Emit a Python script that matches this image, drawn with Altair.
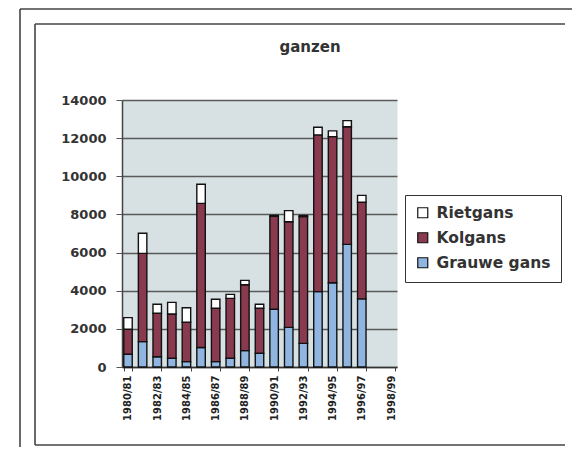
import altair as alt
import pandas as pd

seasons = ["1980/81", "1981/82", "1982/83", "1983/84", "1984/85", "1985/86",
           "1986/87", "1987/88", "1988/89", "1989/90", "1990/91", "1991/92",
           "1992/93", "1993/94", "1994/95", "1995/96", "1996/97", "1997/98",
           "1998/99"]
grauwe = [670, 1330, 540, 460, 280, 1020, 280, 460, 860, 720, 3030, 2080,
          1240, 3950, 4420, 6430, 3570]
kolgans = [1310, 4630, 2280, 2320, 2070, 7560, 2800, 3140, 3450, 2360, 4870,
           5540, 6650, 8220, 7660, 6170, 5070]
rietgans = [610, 1050, 470, 610, 760, 1000, 470, 210, 230, 210, 50, 580, 50,
            400, 300, 320, 360]
series = ["Rietgans", "Kolgans", "Grauwe gans"]
colors = ["#ffffff", "#8a3a4e", "#8fb5e0"]
y_ticks = [0, 2000, 4000, 6000, 8000, 10000, 12000, 14000]

rows = []
for i, s in enumerate(seasons[:len(grauwe)]):
    rows.append({"seizoen": s, "soort": "Grauwe gans", "aantal": grauwe[i], "volg": 0})
    rows.append({"seizoen": s, "soort": "Kolgans", "aantal": kolgans[i], "volg": 1})
    rows.append({"seizoen": s, "soort": "Rietgans", "aantal": rietgans[i], "volg": 2})
df = pd.DataFrame(rows)

FONT = "DejaVu Sans"

bars = alt.Chart(df).mark_bar(stroke="#111111", strokeWidth=1.4).encode(
    x=alt.X("seizoen:N", sort=seasons,
            scale=alt.Scale(domain=seasons, paddingInner=0.42, paddingOuter=0.12),
            axis=alt.Axis(title=None, values=seasons[::2], labelAngle=270,
                          labelFont=FONT, labelFontWeight="bold", labelFontSize=10,
                          labelColor="#222222", labelPadding=4, tickSize=4,
                          tickColor="#444444", tickBand="extent",
                          domainColor="#333333", domainWidth=1.5, grid=False)),
    y=alt.Y("sum(aantal):Q", stack="zero",
            scale=alt.Scale(domain=[0, 14000], nice=False),
            axis=alt.Axis(title=None, values=y_ticks, format="d", labelFont=FONT,
                          labelFontWeight="bold", labelFontSize=13,
                          labelColor="#333333", labelPadding=10, tickSize=6,
                          tickColor="#555555", domainColor="#444444",
                          domainWidth=1.5, gridColor="#5a5a5a", gridWidth=1.3)),
    color=alt.Color("soort:N", scale=alt.Scale(domain=series, range=colors),
                    legend=alt.Legend(title=None, orient="none", legendX=283,
                                      legendY=95, direction="vertical",
                                      labelFont=FONT, labelFontSize=15.5,
                                      labelFontWeight="bold", labelColor="#333333",
                                      symbolType="square", symbolSize=100,
                                      symbolStrokeColor="#111111",
                                      symbolStrokeWidth=1.2, symbolOpacity=1,
                                      rowPadding=8, labelOffset=6,
                                      padding=10, strokeColor="#333333",
                                      fillColor="#ffffff", offset=0)),
    order=alt.Order("volg:Q", sort="ascending"),
)

title = alt.Chart(pd.DataFrame({"t": ["ganzen"]})).mark_text(
    font=FONT, fontSize=15, fontWeight="bold", color="#333333",
    align="center", baseline="middle"
).encode(text="t:N", x=alt.value(188), y=alt.value(-53))

frame = pd.DataFrame({"k": [1]})
lines = [
    # outer frame
    dict(x=-102, x2=470, y=-91, y2=-91),
    dict(x=-102, x2=-102, y=-91, y2=355),
    # inner frame
    dict(x=-87, x2=443, y=-76, y2=-76),
    dict(x=-87, x2=-87, y=-76, y2=345),
    dict(x=-87, x2=443, y=345, y2=345),
]
frame_layers = []
for ln in lines:
    frame_layers.append(
        alt.Chart(frame).mark_rule(color="#444444", strokeWidth=1.6).encode(
            x=alt.value(ln["x"]), x2=alt.value(ln["x2"]),
            y=alt.value(ln["y"]), y2=alt.value(ln["y2"]))
    )

chart = alt.layer(bars, title, *frame_layers).properties(
    width=275, height=267,
    autosize=alt.AutoSizeParams(type="none"),
    padding={"left": 114, "top": 92, "right": 175, "bottom": 80},
    background="#ffffff",
).configure_view(fill="#d7e0e2", stroke="transparent")

chart.save("out.html", embed_options={"renderer": "svg", "actions": False})
